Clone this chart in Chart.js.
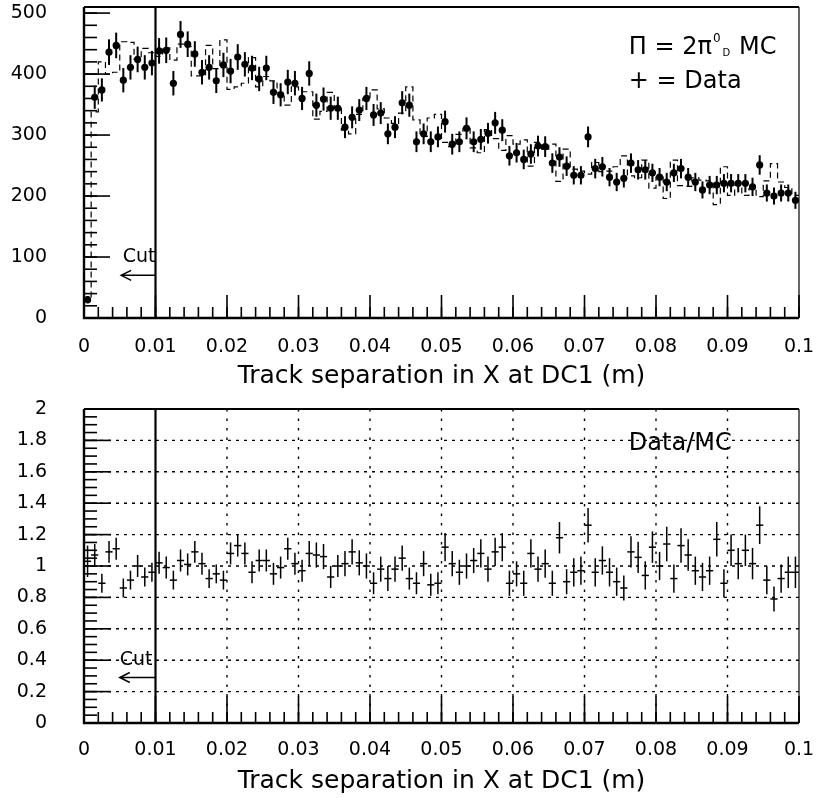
<!DOCTYPE html>
<html><head><meta charset="utf-8">
<script src="https://cdn.jsdelivr.net/npm/chart.js@4.4.1/dist/chart.umd.min.js"></script>
<style>
html,body{margin:0;padding:0;background:#fff;}
canvas{position:absolute;left:0;display:block;}
#topChart{top:0;}
#bottomChart{top:395px;}
</style></head><body>
<canvas id="topChart" width="816" height="395" style="width:816px;height:395px"></canvas>
<canvas id="bottomChart" width="816" height="403" style="width:816px;height:403px"></canvas>
<script>
const FONT = '"DejaVu Sans", sans-serif';
const INK = '#000';

// ---- axes ----
const X_MIN = 0, X_MAX = 0.1, BIN_WIDTH = 0.001;
const X_TICKS = [0, 0.01, 0.02, 0.03, 0.04, 0.05, 0.06, 0.07, 0.08, 0.09, 0.1];
const X_TICK_LABELS = ['0', '0.01', '0.02', '0.03', '0.04', '0.05', '0.06', '0.07', '0.08', '0.09', '0.1'];
const TOP_Y_TICKS = [0, 100, 200, 300, 400, 500];
const TOP_Y_TICK_LABELS = ['0', '100', '200', '300', '400', '500'];
const TOP_Y_MAX = 510;
const BOTTOM_Y_TICKS = [0, 0.2, 0.4, 0.6, 0.8, 1, 1.2, 1.4, 1.6, 1.8, 2];
const BOTTOM_Y_TICK_LABELS = ['0', '0.2', '0.4', '0.6', '0.8', '1', '1.2', '1.4', '1.6', '1.8', '2'];
const BOTTOM_GRID_X = [0.02, 0.03, 0.04, 0.05, 0.06, 0.07, 0.08, 0.09];
const BOTTOM_GRID_Y = [0.2, 0.4, 0.6, 0.8, 1, 1.2, 1.4, 1.6, 1.8];
const X_TITLE = 'Track separation in X at DC1 (m)';
const CUT_X = 0.01;

// ---- data (100 bins of 1 mm) ----
const DATA_COUNTS = [
  30, 362, 374, 436, 447, 390, 411, 424, 411, 418,
  438, 439, 385, 465, 449, 433, 403, 411, 389, 415,
  405, 428, 416, 410, 392, 410, 370, 366, 387, 385,
  360, 401, 349, 359, 344, 344, 313, 329, 341, 360,
  333, 336, 302, 313, 353, 349, 289, 302, 289, 297,
  322, 285, 289, 311, 289, 293, 303, 320, 308, 266,
  271, 260, 269, 282, 281, 254, 264, 249, 234, 234,
  297, 245, 248, 231, 223, 229, 254, 243, 243, 238,
  231, 223, 238, 245, 231, 223, 210, 218, 218, 221,
  221, 221, 221, 215, 251, 205, 200, 205, 205, 193
];
const DATA_ERRORS = [
  6, 19, 19, 21, 21, 20, 20, 21, 20, 20,
  21, 21, 20, 22, 21, 21, 20, 20, 20, 20,
  20, 21, 20, 20, 20, 20, 19, 19, 20, 20,
  19, 20, 19, 19, 19, 19, 18, 18, 18, 19,
  18, 18, 17, 18, 19, 19, 17, 17, 17, 17,
  18, 17, 17, 18, 17, 17, 17, 18, 18, 16,
  16, 16, 16, 17, 17, 16, 16, 16, 15, 15,
  17, 16, 16, 15, 15, 15, 16, 16, 16, 15,
  15, 15, 15, 16, 15, 15, 14, 15, 15, 15,
  15, 15, 15, 15, 16, 14, 14, 14, 14, 14
];
const MC_COUNTS = [
  29, 338, 420, 400, 403, 453, 452, 424, 442, 435,
  429, 443, 423, 449, 445, 397, 397, 447, 409, 456,
  375, 379, 385, 427, 379, 396, 389, 370, 349, 379,
  371, 371, 326, 339, 370, 344, 308, 302, 334, 360,
  374, 343, 328, 319, 336, 379, 325, 298, 328, 334,
  288, 281, 301, 311, 279, 271, 309, 294, 275, 299,
  285, 292, 249, 288, 277, 285, 224, 277, 244, 241,
  236, 255, 240, 241, 248, 266, 233, 230, 259, 213,
  231, 196, 259, 217, 216, 230, 226, 225, 186, 248,
  201, 218, 201, 212, 199, 225, 253, 223, 214, 201
];
const RATIO = [
  1.03, 1.07, 0.89, 1.09, 1.11, 0.86, 0.91, 1.00, 0.93, 0.96,
  1.02, 0.99, 0.91, 1.035, 1.01, 1.09, 1.015, 0.92, 0.95, 0.91,
  1.08, 1.13, 1.08, 0.96, 1.035, 1.035, 0.95, 0.99, 1.11, 1.015,
  0.97, 1.08, 1.07, 1.06, 0.93, 1.00, 1.015, 1.09, 1.02, 1.00,
  0.89, 0.98, 0.92, 0.98, 1.05, 0.92, 0.89, 1.015, 0.88, 0.89,
  1.12, 1.015, 0.96, 1.00, 1.035, 1.08, 0.98, 1.09, 1.12, 0.89,
  0.95, 0.89, 1.08, 0.98, 1.015, 0.89, 1.18, 0.90, 0.96, 0.97,
  1.26, 0.96, 1.035, 0.96, 0.90, 0.86, 1.09, 1.055, 0.94, 1.12,
  1.00, 1.14, 0.92, 1.13, 1.07, 0.97, 0.93, 0.97, 1.17, 0.89,
  1.10, 1.015, 1.10, 1.015, 1.26, 0.91, 0.79, 0.92, 0.96, 0.96
];
const RATIO_ERRORS = [
  0.10, 0.07, 0.06, 0.07, 0.07, 0.06, 0.06, 0.07, 0.06, 0.06,
  0.07, 0.07, 0.06, 0.07, 0.07, 0.07, 0.07, 0.06, 0.06, 0.06,
  0.07, 0.07, 0.07, 0.07, 0.07, 0.07, 0.07, 0.07, 0.07, 0.07,
  0.07, 0.08, 0.08, 0.08, 0.07, 0.07, 0.08, 0.08, 0.08, 0.08,
  0.07, 0.08, 0.08, 0.08, 0.08, 0.07, 0.07, 0.08, 0.07, 0.07,
  0.09, 0.08, 0.08, 0.08, 0.08, 0.09, 0.08, 0.09, 0.09, 0.08,
  0.08, 0.08, 0.09, 0.08, 0.09, 0.08, 0.10, 0.08, 0.09, 0.09,
  0.11, 0.09, 0.09, 0.09, 0.09, 0.08, 0.10, 0.10, 0.09, 0.10,
  0.09, 0.11, 0.09, 0.11, 0.10, 0.09, 0.09, 0.09, 0.11, 0.09,
  0.10, 0.10, 0.10, 0.10, 0.12, 0.09, 0.08, 0.09, 0.10, 0.10
];

// ---- derived structures for the library ----
const binCenters = DATA_COUNTS.map((_, i) => X_MIN + (i + 0.5) * BIN_WIDTH);
const dataPoints = DATA_COUNTS.map((v, i) => ({ x: binCenters[i], y: v }));
const mcSteps = MC_COUNTS.map((v, i) => ({ x: X_MIN + i * BIN_WIDTH, y: v }));
mcSteps.push({ x: X_MAX, y: MC_COUNTS[MC_COUNTS.length - 1] });
const ratioPoints = RATIO.map((v, i) => ({ x: binCenters[i], y: v }));

function range(from, to, step) {
  const out = []; const n = Math.round((to - from) / step);
  for (let k = 0; k <= n; k++) out.push(from + k * step);
  return out;
}

function drawParts(ctx, x, y, parts) {
  let cx = x;
  parts.forEach(p => {
    ctx.font = p.size + 'px ' + FONT;
    cx += (p.dx || 0);
    ctx.fillText(p.t, cx, y + (p.dy || 0));
    cx += ctx.measureText(p.t).width;
  });
}

const panelPlugin = {
  id: 'panel',
  beforeDatasetsDraw(chart, args, o) {
    if (!o.gridX && !o.gridY) return;
    const { ctx, chartArea: a, scales: { x, y } } = chart;
    ctx.save();
    ctx.strokeStyle = INK; ctx.lineWidth = 1.4;
    ctx.setLineDash([3, 5]);
    (o.gridY || []).forEach(v => {
      const py = y.getPixelForValue(v);
      ctx.beginPath(); ctx.moveTo(a.left, py); ctx.lineTo(a.right, py); ctx.stroke();
    });
    ctx.setLineDash([2.5, 7]);
    (o.gridX || []).forEach(v => {
      const px = x.getPixelForValue(v);
      ctx.beginPath(); ctx.moveTo(px, a.top); ctx.lineTo(px, a.bottom); ctx.stroke();
    });
    ctx.restore();
  },
  afterDatasetsDraw(chart, args, o) {
    const { ctx, chartArea: a, scales: { x, y } } = chart;
    ctx.save();
    ctx.beginPath(); ctx.rect(a.left, a.top, a.right - a.left, a.bottom - a.top); ctx.clip();
    ctx.strokeStyle = INK;
    chart.data.datasets.forEach(ds => {
      if (!ds.errorBars) return;
      ctx.lineWidth = ds.errorWidth || 1.5;
      ds.data.forEach((p, i) => {
        const e = ds.errorBars[i];
        const px = x.getPixelForValue(p.x);
        ctx.beginPath();
        ctx.moveTo(px, y.getPixelForValue(p.y - e));
        ctx.lineTo(px, y.getPixelForValue(p.y + e));
        ctx.stroke();
      });
    });
    ctx.restore();
  },
  afterDraw(chart, args, o) {
    const { ctx, chartArea: a, scales: { x, y } } = chart;
    ctx.save();
    ctx.strokeStyle = INK; ctx.fillStyle = INK; ctx.setLineDash([]);
    // frame
    ctx.lineWidth = 2.4;
    ctx.beginPath(); ctx.moveTo(a.left, a.top); ctx.lineTo(a.left, a.bottom); ctx.lineTo(a.right, a.bottom); ctx.stroke();
    ctx.lineWidth = 2;
    ctx.beginPath(); ctx.moveTo(a.left, a.top); ctx.lineTo(a.right, a.top); ctx.stroke();
    ctx.lineWidth = 1.2;
    ctx.beginPath(); ctx.moveTo(a.right, a.top); ctx.lineTo(a.right, a.bottom); ctx.stroke();
    // inward ticks
    ctx.lineWidth = 1.6;
    const tick = (vals, len, horiz) => vals.forEach(v => {
      ctx.beginPath();
      if (horiz) { const py = y.getPixelForValue(v); ctx.moveTo(a.left, py); ctx.lineTo(a.left + len, py); }
      else { const px = x.getPixelForValue(v); ctx.moveTo(px, a.bottom); ctx.lineTo(px, a.bottom - len); }
      ctx.stroke();
    });
    tick(o.yMinor, o.yMinorLen, true);
    tick(o.yMajor, o.yMajorLen, true);
    tick(o.xMinor, o.xMinorLen, false);
    tick(o.xMajor, o.xMajorLen, false);
    // cut line
    const cx = x.getPixelForValue(CUT_X);
    ctx.lineWidth = 2.2;
    ctx.beginPath(); ctx.moveTo(cx, a.top); ctx.lineTo(cx, a.bottom); ctx.stroke();
    // cut arrow
    const ay = y.getPixelForValue(o.cut.arrowY);
    const ax = x.getPixelForValue(o.cut.arrowToX);
    ctx.lineWidth = 1.5;
    ctx.beginPath(); ctx.moveTo(cx, ay); ctx.lineTo(ax, ay);
    ctx.moveTo(ax + 10, ay - 5); ctx.lineTo(ax, ay); ctx.lineTo(ax + 10, ay + 5); ctx.stroke();
    ctx.textBaseline = 'middle'; ctx.textAlign = 'center';
    ctx.font = '19px ' + FONT;
    ctx.fillText('Cut', x.getPixelForValue(o.cut.labelX), y.getPixelForValue(o.cut.labelY));
    // text notes
    ctx.textAlign = 'left';
    (o.notes || []).forEach(n => drawParts(ctx, x.getPixelForValue(n.x), y.getPixelForValue(n.y), n.parts));
    ctx.restore();
  }
};
Chart.register(panelPlugin);

function xScale(height, labelPad, titlePad) {
  return {
    type: 'linear', min: X_MIN, max: X_MAX,
    grid: { display: false, drawTicks: false }, border: { display: false },
    afterBuildTicks: s => { s.ticks = X_TICKS.map(v => ({ value: v })); },
    afterFit: s => { s.height = height; s.paddingLeft = 0; s.paddingRight = 0; },
    ticks: { autoSkip: false, maxRotation: 0, padding: labelPad, color: INK,
             font: { family: FONT, size: 19 }, callback: (v, i) => X_TICK_LABELS[i] },
    title: { display: true, text: X_TITLE, color: INK, font: { family: FONT, size: 25 },
             padding: { top: 0, bottom: titlePad } }
  };
}
function yScale(min, max, ticks, labels) {
  return {
    type: 'linear', min: min, max: max,
    grid: { display: false, drawTicks: false }, border: { display: false },
    afterBuildTicks: s => { s.ticks = ticks.map(v => ({ value: v })); },
    afterFit: s => { s.width = 84; s.paddingTop = 0; s.paddingBottom = 0; },
    ticks: { autoSkip: false, padding: 37, color: INK,
             font: { family: FONT, size: 19 }, callback: (v, i) => labels[i] }
  };
}
const commonOpts = { responsive: false, animation: false, devicePixelRatio: 1, events: [] };

new Chart(document.getElementById('topChart'), {
  type: 'line',
  data: {
    datasets: [
      { label: 'Data', data: dataPoints, showLine: false, pointRadius: 3.6, pointStyle: 'circle',
        pointBackgroundColor: INK, pointBorderColor: INK, pointBorderWidth: 0,
        errorBars: DATA_ERRORS, errorWidth: 2 },
      { label: 'MC', data: mcSteps, stepped: 'before', pointRadius: 0, borderColor: INK,
        borderWidth: 1.2, borderDash: [6, 4], fill: false }
    ]
  },
  options: Object.assign({}, commonOpts, {
    layout: { padding: { left: 0, right: 17, top: 7, bottom: 0 } },
    plugins: {
      legend: { display: false }, tooltip: { enabled: false },
      panel: {
        yMajor: TOP_Y_TICKS, yMinor: range(0, 500, 20), yMajorLen: 26, yMinorLen: 13,
        xMajor: X_TICKS, xMinor: range(0, 0.1, 0.002), xMajorLen: 23, xMinorLen: 11,
        cut: { labelX: 0.0077, labelY: 100, arrowY: 70, arrowToX: 0.0052 },
        notes: [
          { x: 0.0762, y: 443, parts: [ { t: '\u03A0 = 2\u03C0', size: 24 }, { t: '0', size: 12, dy: -9, dx: 1 },
                                        { t: 'D', size: 10, dy: 6, dx: 2 }, { t: ' MC', size: 24, dx: 1 } ] },
          { x: 0.0762, y: 387, parts: [ { t: '+ = Data', size: 24 } ] }
        ]
      }
    },
    scales: { x: xScale(77, 18, 4), y: yScale(0, TOP_Y_MAX, TOP_Y_TICKS, TOP_Y_TICK_LABELS) }
  })
});

new Chart(document.getElementById('bottomChart'), {
  type: 'line',
  data: {
    datasets: [
      { label: 'Data/MC', data: ratioPoints, showLine: false, pointStyle: 'line', pointRadius: 3.6,
        pointBorderColor: INK, pointBorderWidth: 1.5, errorBars: RATIO_ERRORS, errorWidth: 1.5 }
    ]
  },
  options: Object.assign({}, commonOpts, {
    layout: { padding: { left: 0, right: 17, top: 14, bottom: 0 } },
    plugins: {
      legend: { display: false }, tooltip: { enabled: false },
      panel: {
        gridX: BOTTOM_GRID_X, gridY: BOTTOM_GRID_Y,
        yMajor: BOTTOM_Y_TICKS, yMinor: range(0, 2, 0.05), yMajorLen: 27, yMinorLen: 13,
        xMajor: X_TICKS, xMinor: range(0, 0.1, 0.002), xMajorLen: 27, xMinorLen: 11,
        cut: { labelX: 0.0073, labelY: 0.4, arrowY: 0.29, arrowToX: 0.005 },
        notes: [ { x: 0.0762, y: 1.78, parts: [ { t: 'Data/MC', size: 24 } ] } ]
      }
    },
    scales: { x: xScale(75, 16, 2), y: yScale(0, 2, BOTTOM_Y_TICKS, BOTTOM_Y_TICK_LABELS) }
  })
});
</script>
</body></html>
